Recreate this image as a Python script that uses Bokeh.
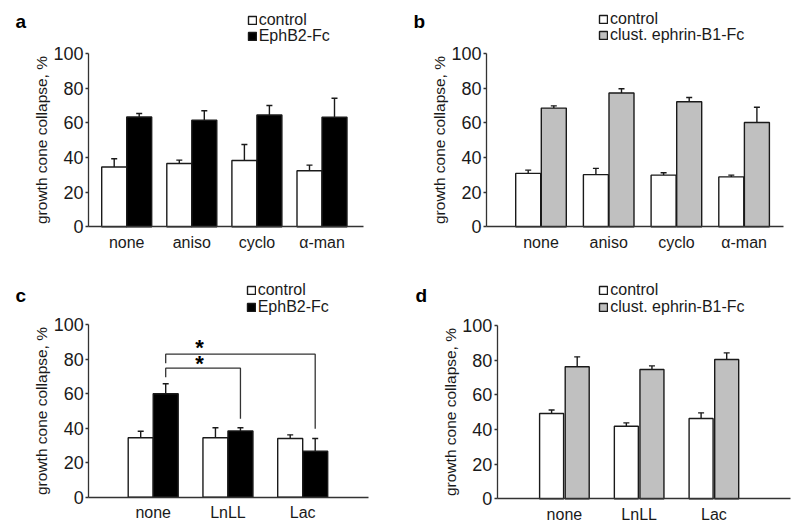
from bokeh.plotting import figure
from bokeh.models import (Range1d, FixedTicker, ColumnDataSource, Whisker, TeeHead,
                          Legend, LegendItem, Label)
from bokeh.layouts import column, row
from bokeh.embed import file_html
from bokeh.resources import INLINE
from bokeh.core.properties import value

FONT = "Liberation Sans"
INK = "#1a1a1a"
GREY = "#c0c0c0"

# ---------------- data ----------------
cats_ab = ["none", "aniso", "cyclo", "α-man"]
cats_cd = ["none", "LnLL", "Lac"]
y_ticks = [0, 20, 40, 60, 80, 100]

a_control = [34.5, 36.5, 38.3, 32.3]
a_control_err = [4.8, 2.0, 9.2, 3.3]
a_ephb2 = [63.4, 61.5, 64.5, 63.2]
a_ephb2_err = [2.0, 5.5, 5.5, 11.0]

b_control = [30.8, 30.1, 29.8, 28.8]
b_control_err = [1.9, 3.6, 1.4, 1.0]
b_ephrin = [68.5, 77.2, 72.2, 60.2]
b_ephrin_err = [1.3, 2.5, 2.4, 8.8]

c_control = [34.4, 34.4, 34.0]
c_control_err = [3.8, 5.8, 2.1]
c_ephb2 = [59.9, 38.4, 26.6]
c_ephb2_err = [5.8, 1.8, 7.4]

d_control = [49.2, 41.9, 46.3]
d_control_err = [2.0, 1.9, 3.3]
d_ephrin = [76.2, 74.6, 80.4]
d_ephrin_err = [5.7, 2.1, 3.8]

# significance brackets in panel c (from "none" EphB2-Fc to the given category)
sig_to = ["LnLL", "Lac"]
sig_level = [74.7, 82.8]
sig_left_end = [69.5, 77.6]
sig_right_end = [45.4, 39.6]
sig_star_y = [78.6, 87.8]
sig_star_x = [0.62, 0.62]

label_ctrl = "control"
label_ephb2 = "EphB2-Fc"
label_ephrin = "clust. ephrin-B1-Fc"
y_label = "growth cone collapse, %"


def make_panel(cats, ctrl, ctrl_err, trt, trt_err, trt_color, trt_label, letter, geo):
    W, H = geo["size"]
    c0, u = geo["c0"], geo["unit"]           # px of first category centre, px per category
    y0, y100 = geo["y0"], geo["y100"]         # px (local, from top) of value 0 and 100
    ppu = (y0 - y100) / 100.0
    # the frame covers the whole figure; axes are drawn at fixed positions inside it
    x_range = Range1d((0 - c0) / u, (W - c0) / u)
    y_range = Range1d(-(H - y0) / ppu, y0 / ppu)
    ax_l, ax_r = geo["axis_x"]

    p = figure(width=W, height=H, x_range=x_range, y_range=y_range,
               output_backend="svg", toolbar_location=None,
               min_border_left=0, min_border_right=0, min_border_top=0, min_border_bottom=0)
    p.outline_line_color = None
    p.grid.visible = False
    p.background_fill_color = "white"
    p.border_fill_color = "white"

    bw, off = geo["bar_w"] / u, geo["bar_off"] / u
    idx = list(range(len(cats)))
    xc = [i - off for i in idx]
    xt = [i + off for i in idx]

    r1 = p.vbar(x=xc, top=ctrl, width=bw, fill_color="white", line_color=INK, line_width=1.4)
    r2 = p.vbar(x=xt, top=trt, width=bw, fill_color=trt_color, line_color=INK, line_width=1.4)

    for xs, tops, errs in ((xc, ctrl, ctrl_err), (xt, trt, trt_err)):
        src = ColumnDataSource(dict(x=xs, lower=tops, upper=[t + e for t, e in zip(tops, errs)]))
        p.add_layout(Whisker(source=src, base="x", lower="lower", upper="upper", dimension="height",
                             lower_head=None,
                             upper_head=TeeHead(size=6, line_color=INK, line_width=1.4),
                             line_color=INK, line_width=1.4))

    # y axis: drawn at a fixed x, only from 0 to 100
    yax = p.yaxis[0]
    yax.fixed_location = (ax_l - c0) / u
    yax.bounds = (0, 100)
    yax.ticker = FixedTicker(ticks=y_ticks)
    yax.major_tick_out = 3
    yax.major_tick_in = 0
    yax.minor_tick_line_color = None
    yax.major_label_standoff = 2
    yax.major_label_text_font = FONT
    yax.major_label_text_font_size = "18px"
    yax.major_label_text_color = INK
    yax.axis_label = y_label
    yax.axis_label_text_font = FONT
    yax.axis_label_text_font_size = "15.5px"
    yax.axis_label_text_font_style = "normal"
    yax.axis_label_text_color = INK
    yax.axis_label_standoff = 0

    # x axis: drawn at value 0, spanning only the plotting area of the original
    xax = p.xaxis[0]
    xax.fixed_location = 0
    xax.bounds = ((ax_l - c0) / u, (ax_r - c0) / u)
    xax.ticker = FixedTicker(ticks=idx)
    xax.major_label_overrides = {i: c for i, c in zip(idx, cats)}
    xax.major_tick_out = 0
    xax.major_tick_in = 0
    xax.minor_tick_line_color = None
    xax.major_label_standoff = 7
    xax.major_label_text_font = FONT
    xax.major_label_text_font_size = "16px"
    xax.major_label_text_color = INK

    for ax in (xax, yax):
        ax.axis_line_color = "#333333"
        ax.axis_line_width = 1.3
        ax.major_tick_line_color = "#333333"
        ax.major_tick_line_width = 1.3

    # legend: one single-row legend per series, placed by row centre
    lx, rows_c = geo["legend"]                 # left px, row centres px (local)
    for lab, rend, rc in zip((label_ctrl, trt_label), (r1, r2), rows_c):
        lg = Legend(items=[LegendItem(label=lab, renderers=[rend])],
                    location=(lx, H - (rc + 9)), orientation="vertical",
                    glyph_width=10, glyph_height=10, label_standoff=2,
                    padding=0, margin=0, spacing=0,
                    border_line_color=None, background_fill_alpha=0,
                    label_text_font=FONT, label_text_font_size="16px",
                    label_text_color=INK, label_height=16)
        p.add_layout(lg)

    tx, tb = geo["letter"]                     # left px, baseline px (local)
    p.add_layout(Label(x=(tx - c0) / u, y=(y0 - tb) / ppu,
                       text=letter, text_font=FONT, text_font_size="19px",
                       text_font_style="bold", text_color="black",
                       text_baseline="alphabetic", text_align="left"))
    return p, idx, off


geo_a = dict(size=(400, 264), c0=126.2, unit=65.1, y0=226.3, y100=53,
             axis_x=(88, 362.7), bar_w=25, bar_off=12.5, legend=(246.7, (20.3, 36.3)), letter=(15, 21))
geo_b = dict(size=(400, 264), c0=140.5, unit=67.7, y0=226.3, y100=53,
             axis_x=(86, 383), bar_w=25, bar_off=12.8, legend=(198, (18.6, 34.6)), letter=(13, 20.5))
geo_c = dict(size=(400, 265), c0=152.7, unit=74.75, y0=232.7, y100=60,
             axis_x=(88.3, 368.3), bar_w=25, bar_off=12.5, legend=(245.7, (26.2, 42.6)), letter=(15, 31.2))
geo_d = dict(size=(400, 265), c0=163.9, unit=74.75, y0=234.3, y100=61,
             axis_x=(96.7, 390), bar_w=24, bar_off=12.8, legend=(198.3, (26.2, 42.6)), letter=(15, 31))

pa, _, _ = make_panel(cats_ab, a_control, a_control_err, a_ephb2, a_ephb2_err,
                      "black", label_ephb2, "a", geo_a)
pb, _, _ = make_panel(cats_ab, b_control, b_control_err, b_ephrin, b_ephrin_err,
                      GREY, label_ephrin, "b", geo_b)
pc, idx_c, off_c = make_panel(cats_cd, c_control, c_control_err, c_ephb2, c_ephb2_err,
                              "black", label_ephb2, "c", geo_c)
pd_, _, _ = make_panel(cats_cd, d_control, d_control_err, d_ephrin, d_ephrin_err,
                       GREY, label_ephrin, "d", geo_d)

# significance brackets & stars on panel c
x_left = idx_c[0] + off_c
bx, by = [], []
for tgt, lvl, le, re_ in zip(sig_to, sig_level, sig_left_end, sig_right_end):
    xr_ = cats_cd.index(tgt) + off_c
    bx.append([x_left, x_left, xr_, xr_])
    by.append([le, lvl, lvl, re_])
pc.multi_line(xs=bx, ys=by, line_color="#333333", line_width=1.3)
pc.text(x=sig_star_x, y=sig_star_y, text=["*"] * len(sig_star_y),
        text_font=value(FONT), text_font_size="22px", text_font_style="bold",
        text_align="center", text_baseline="middle", y_offset=2, text_color="black")

layout = column(row(pa, pb), row(pc, pd_))
open("out.html", "w").write(file_html(layout, INLINE))
